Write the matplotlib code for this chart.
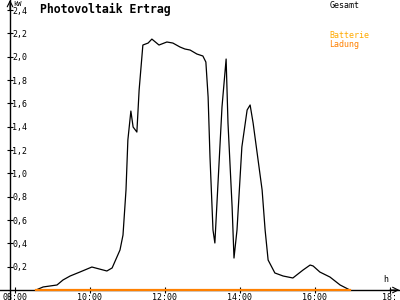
import matplotlib

matplotlib.use("Agg")
import matplotlib.pyplot as plt

# PV output "Gesamt" in kW over the day (hours)
hours = [8.56, 8.75, 9.12, 9.28, 9.47, 9.73, 10.05, 10.45, 10.59, 10.80, 10.88,
         10.96, 11.01, 11.09, 11.15, 11.25, 11.31, 11.41, 11.55, 11.65, 11.84,
         12.05, 12.21, 12.40, 12.53, 12.67, 12.85, 13.01, 13.09, 13.15, 13.20,
         13.28, 13.33, 13.39, 13.52, 13.63, 13.68, 13.79, 13.84, 13.92, 14.05,
         14.19, 14.27, 14.35, 14.59, 14.67, 14.75, 14.93, 15.15, 15.41, 15.68,
         15.87, 15.95, 16.13, 16.40, 16.67, 16.93]
gesamt = [0.0, 0.026, 0.043, 0.086, 0.12, 0.154, 0.197, 0.163, 0.189, 0.343, 0.471,
          0.857, 1.286, 1.534, 1.397, 1.354, 1.714, 2.10, 2.117, 2.151, 2.10,
          2.126, 2.117, 2.083, 2.066, 2.057, 2.023, 2.006, 1.954, 1.654, 1.14,
          0.514, 0.403, 0.771, 1.569, 1.98, 1.431, 0.711, 0.274, 0.514, 1.226,
          1.543, 1.586, 1.431, 0.857, 0.514, 0.257, 0.146, 0.12, 0.103, 0.171,
          0.214, 0.206, 0.154, 0.111, 0.043, 0.0]
# battery charge series (flat zero)
ladung_hours = [8.56, 16.93]
ladung = [0.0, 0.0]

y_ticks = [0.2, 0.4, 0.6, 0.8, 1.0, 1.2, 1.4, 1.6, 1.8, 2.0, 2.2, 2.4]
x_ticks = [8, 10, 12, 14, 16, 18]
x_labels = ["08:00", "10:00", "12:00", "14:00", "16:00", "18:"]

mono = "DejaVu Sans Mono"
orange = "#ff8000"

fig = plt.figure(figsize=(4, 3), dpi=100)
ax = fig.add_axes([0, 0, 1, 1])
ax.set_xlim(7.6, 18.267)
ax.set_ylim(-0.0857, 2.486)

y_axis_x = 7.867
ax.plot(hours, gesamt, color="black", lw=0.9, zorder=3)
ax.plot(ladung_hours, ladung, color=orange, lw=1.6, zorder=4)

# axes
for s in ["top", "right"]:
    ax.spines[s].set_visible(False)
ax.spines["left"].set_position(("data", y_axis_x))
ax.spines["bottom"].set_position(("data", 0))
ax.spines["left"].set_linewidth(1.0)
ax.spines["bottom"].set_linewidth(1.0)

ax.set_yticks(y_ticks)
ax.set_yticklabels([f"{v:.1f}".replace(".", ",") for v in y_ticks])
ax.set_xticks(x_ticks)
ax.set_xticklabels(x_labels)
ax.tick_params(axis="y", direction="inout", length=5, width=0.8, pad=-4,
               labelsize=6)
ax.tick_params(axis="x", direction="inout", length=5, width=0.8, pad=-0.5,
               labelsize=6)
for lbl in ax.get_yticklabels():
    lbl.set_horizontalalignment("left")
    lbl.set_family(mono)
for lbl in ax.get_xticklabels():
    lbl.set_family(mono)

# arrow heads
ax.annotate("", xy=(y_axis_x, 2.486), xytext=(y_axis_x, 2.40),
            arrowprops=dict(arrowstyle="->", lw=0.8, color="black",
                            shrinkA=0, shrinkB=0))
ax.annotate("", xy=(18.25, 0), xytext=(18.0, 0),
            arrowprops=dict(arrowstyle="->", lw=0.8, color="black",
                            shrinkA=0, shrinkB=0))

# texts
fig.text(0.032, 0.995, "kW", fontsize=5, family=mono, va="top", ha="left")
fig.text(0.10, 0.99, "Photovoltaik Ertrag", fontsize=8.3, family=mono,
         weight="bold", va="top", ha="left")
fig.text(0.823, 0.995, "Gesamt", fontsize=6, family=mono, va="top", ha="left")
fig.text(0.823, 0.895, "Batterie", fontsize=6, family=mono, va="top",
         ha="left", color="#ffaa00")
fig.text(0.823, 0.868, "Ladung", fontsize=6, family=mono, va="top",
         ha="left", color=orange)
fig.text(0.965, 0.055, "h", fontsize=6, family=mono, va="bottom", ha="center")

fig.savefig("out.png", dpi=100)
